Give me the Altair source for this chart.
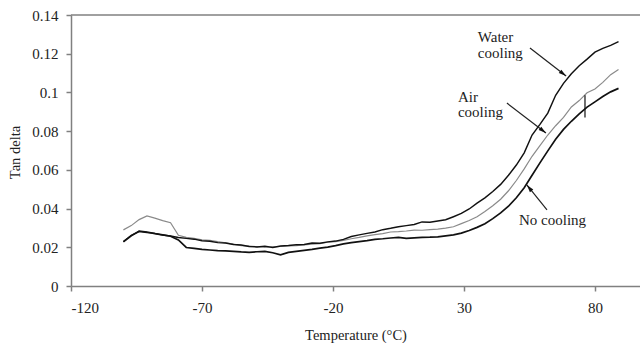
import altair as alt
import pandas as pd

# Temperature grid (°C)
temps = list(range(-100, 90, 3))

water_cooling = [
    0.0230, 0.0262, 0.0281, 0.0276, 0.0272, 0.0263, 0.0258, 0.0251, 0.0246, 0.0242,
    0.0234, 0.0231, 0.0224, 0.0222, 0.0214, 0.0212, 0.0204, 0.0202, 0.0206, 0.0199,
    0.0207, 0.0209, 0.0213, 0.0214, 0.0222, 0.0221, 0.0228, 0.0232, 0.0241, 0.0256,
    0.0264, 0.0272, 0.0279, 0.0291, 0.0298, 0.0306, 0.0312, 0.0318, 0.0331, 0.0329,
    0.0336, 0.0342, 0.0358, 0.0375, 0.0398, 0.0428, 0.0455, 0.0488, 0.0525, 0.0572,
    0.0625, 0.0688, 0.0780, 0.0835, 0.0893, 0.0985, 0.1047, 0.1096, 0.1138, 0.1172,
    0.1208, 0.1228, 0.1243, 0.1262,
]
air_cooling = [
    0.0290, 0.0312, 0.0343, 0.0362, 0.0351, 0.0338, 0.0327, 0.0262, 0.0251, 0.0246,
    0.0239, 0.0236, 0.0229, 0.0223, 0.0216, 0.0209, 0.0206, 0.0203, 0.0199, 0.0202,
    0.0204, 0.0207, 0.0209, 0.0212, 0.0216, 0.0219, 0.0226, 0.0229, 0.0236, 0.0244,
    0.0251, 0.0259, 0.0265, 0.0271, 0.0279, 0.0281, 0.0284, 0.0289, 0.0288, 0.0291,
    0.0294, 0.0299, 0.0306, 0.0322, 0.0338, 0.0358, 0.0385, 0.0415, 0.0448, 0.0492,
    0.0545, 0.0605, 0.0670, 0.0725, 0.0780, 0.0828, 0.0871, 0.0925, 0.0958, 0.0998,
    0.1018, 0.1052, 0.1092, 0.1118,
]
no_cooling = [
    0.0228, 0.0259, 0.0284, 0.0279, 0.0271, 0.0264, 0.0257, 0.0238, 0.0199, 0.0194,
    0.0189, 0.0186, 0.0183, 0.0181, 0.0179, 0.0176, 0.0174, 0.0177, 0.0179, 0.0172,
    0.0161, 0.0174, 0.0179, 0.0184, 0.0189, 0.0196, 0.0201, 0.0209, 0.0218, 0.0224,
    0.0229, 0.0234, 0.0241, 0.0244, 0.0248, 0.0251, 0.0246, 0.0249, 0.0251, 0.0252,
    0.0254, 0.0259, 0.0264, 0.0273, 0.0287, 0.0303, 0.0322, 0.0348, 0.0378, 0.0412,
    0.0456, 0.0508, 0.0572, 0.0636, 0.0698, 0.0758, 0.0809, 0.0851, 0.0889, 0.0924,
    0.0951, 0.0979, 0.1003, 0.1021,
]

series_names = ["Air cooling", "Water cooling", "No cooling"]
series_values = [air_cooling, water_cooling, no_cooling]

x_ticks = [-120, -70, -20, 30, 80]
y_ticks = [0, 0.02, 0.04, 0.06, 0.08, 0.1, 0.12, 0.14]

# Annotation labels (text lines) and arrows (from -> to, in data units)
label_lines = ["Water", "cooling", "Air", "cooling", "No cooling"]
label_t = [35.3, 35.3, 27.7, 27.7, 51.0]
label_v = [0.1286, 0.1204, 0.0976, 0.0899, 0.0341]

arrow_t0 = [55.2, 46.4, 61.7]
arrow_v0 = [0.1230, 0.0945, 0.0393]
arrow_t1 = [69.0, 61.3, 54.0]
arrow_v1 = [0.1085, 0.0790, 0.0522]
arrow_angle = [127, 128, 321]

# small vertical marker on the No cooling curve
marker_t = [76.2]
marker_v0 = [0.0870]
marker_v1 = [0.0985]

rows = []
for name, vals in zip(series_names, series_values):
    for t, v in zip(temps, vals):
        rows.append({"T": t, "v": v, "series": name})
df = pd.DataFrame(rows)

labels_df = pd.DataFrame({"T": label_t, "v": label_v, "text": label_lines})
arrows_df = pd.DataFrame({"T": arrow_t0, "v": arrow_v0, "T2": arrow_t1, "v2": arrow_v1, "angle": arrow_angle})
marker_df = pd.DataFrame({"T": marker_t, "v": marker_v0, "v2": marker_v1})
border_df = pd.DataFrame({"v": [0.14]})

FONT = "Liberation Serif"
AXIS_COLOR = "#808080"

x_scale = alt.Scale(domain=[-120, 97.2], nice=False, zero=False)
y_scale = alt.Scale(domain=[0, 0.14], nice=False, zero=True)

x_axis = alt.Axis(
    values=x_ticks, title="Temperature (°C)", grid=False,
    labelExpr="'' + datum.value", labelOverlap=False,
    labelFont=FONT, labelFontSize=15, labelColor="#222222", labelPadding=9,
    titleFont=FONT, titleFontSize=14.5, titleFontWeight="normal", titleColor="#222222",
    titleY=49, titleBaseline="middle",
    domainColor=AXIS_COLOR, domainWidth=1.5, tickColor=AXIS_COLOR, tickWidth=1.5, tickSize=5,
)
y_axis = alt.Axis(
    values=y_ticks, title="Tan delta", grid=False,
    labelExpr="'' + datum.value", labelOverlap=False,
    labelFont=FONT, labelFontSize=15, labelColor="#222222", labelPadding=8,
    titleFont=FONT, titleFontSize=14.5, titleFontWeight="normal", titleColor="#222222",
    titleX=-56, titleY=137, titleBaseline="middle", titleAlign="center",
    domainColor=AXIS_COLOR, domainWidth=1.5, tickColor=AXIS_COLOR, tickWidth=1.5, tickSize=5,
)

def X(field):
    return alt.X(field, scale=x_scale, axis=x_axis, title="Temperature (°C)")

def Y(field):
    return alt.Y(field, scale=y_scale, axis=y_axis, title="Tan delta")

color = alt.Color(
    "series:N",
    scale=alt.Scale(domain=series_names, range=["#8a8a8a", "#111111", "#111111"]),
    legend=None,
)
width = alt.StrokeWidth(
    "series:N",
    scale=alt.Scale(domain=series_names, range=[1.2, 1.7, 1.7]),
    legend=None,
)

lines = alt.Chart(df).mark_line(interpolate="linear").encode(
    x=X("T:Q"), y=Y("v:Q"),
    color=color, strokeWidth=width, detail="series:N", order=alt.Order("T:Q"),
)

top_border = alt.Chart(border_df).mark_rule(color=AXIS_COLOR, strokeWidth=1.5).encode(
    y=Y("v:Q")
)

marker = alt.Chart(marker_df).mark_rule(color="#111111", strokeWidth=1.2).encode(
    x=X("T:Q"), y=Y("v:Q"), y2="v2:Q"
)

arrow_lines = alt.Chart(arrows_df).mark_rule(color="#222222", strokeWidth=1.2).encode(
    x=X("T:Q"), y=Y("v:Q"), x2="T2:Q", y2="v2:Q"
)
arrow_heads = alt.Chart(arrows_df).mark_point(
    shape="M0,0 L-0.45,1.6 L0.45,1.6 Z", filled=True, color="#111111", size=90, opacity=1
).encode(
    x=X("T2:Q"), y=Y("v2:Q"),
    angle=alt.Angle("angle:Q", scale=None),
)

texts = alt.Chart(labels_df).mark_text(
    font=FONT, fontSize=15, color="#222222", align="left", baseline="middle"
).encode(
    x=X("T:Q"), y=Y("v:Q"), text="text:N"
)

chart = alt.layer(lines, top_border, marker, arrow_lines, arrow_heads, texts).properties(
    width=569, height=271,
    padding={"left": 71, "top": 15, "right": 0, "bottom": 57},
    autosize=alt.AutoSizeParams(type="none"),
    background="white",
).configure_view(stroke=None)

chart.save("out.html", embed_options={"renderer": "svg", "actions": False})
